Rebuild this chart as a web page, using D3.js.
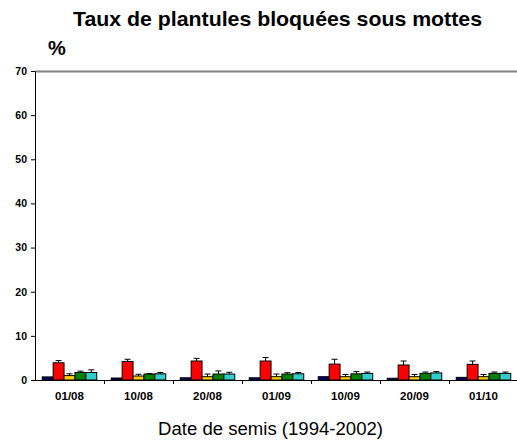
<!DOCTYPE html>
<html>
<head>
<meta charset="utf-8">
<script src="https://cdn.jsdelivr.net/npm/d3@7"></script>
<style>
  html, body { margin: 0; padding: 0; background: #fff; }
  svg { display: block; font-family: "Liberation Sans", Arial, sans-serif; }
</style>
</head>
<body>
<svg id="chart" width="517" height="445"></svg>
<script>
// Sowing dates (x categories)
const dates = ["01/08", "10/08", "20/08", "01/09", "10/09", "20/09", "01/10"];
// Five series per sowing date
const seriesNames = ["s1", "s2", "s3", "s4", "s5"];
const seriesColors = ["#000066", "#ff0000", "#ffcc00", "#008000", "#33cccc"];
// Mean rate (%) per series, one value per date
const s1 = [0.7, 0.45, 0.5, 0.5, 0.75, 0.4, 0.6];
const s2 = [3.9, 4.2, 4.3, 4.3, 3.6, 3.4, 3.55];
const s3 = [1.0, 0.9, 0.75, 0.75, 0.75, 0.75, 0.75];
const s4 = [1.7, 1.35, 1.35, 1.35, 1.4, 1.5, 1.5];
const s5 = [1.7, 1.4, 1.35, 1.4, 1.5, 1.6, 1.5];
// Upper error (%) per series
const e1 = [0.0, 0.0, 0.0, 0.0, 0.0, 0.0, 0.0];
const e2 = [0.5, 0.5, 0.6, 0.8, 1.1, 0.9, 0.75];
const e3 = [0.4, 0.4, 0.6, 0.6, 0.5, 0.5, 0.5];
const e4 = [0.3, 0.1, 0.7, 0.3, 0.5, 0.3, 0.3];
const e5 = [0.6, 0.3, 0.4, 0.3, 0.3, 0.3, 0.3];
const yTicks = [0, 10, 20, 30, 40, 50, 60, 70];

const values = [s1, s2, s3, s4, s5];
const errors = [e1, e2, e3, e4, e5];

const FONT = "Liberation Sans, Arial, sans-serif";
const svg = d3.select("#chart");
const mLeft = 35, mRight = 518, mTop = 71, mBottom = 380;

const x = d3.scaleBand().domain(dates).range([mLeft, mRight]).paddingInner(0.21).paddingOuter(0.105);
const xs = d3.scaleBand().domain(seriesNames).range([0, x.bandwidth()]);
const y = d3.scaleLinear().domain([0, 70]).range([mBottom, mTop]);

// Title and unit
svg.append("text").attr("x", 277.5).attr("y", 26).attr("text-anchor", "middle")
  .attr("font-family", FONT).attr("font-size", 20.5).attr("font-weight", "bold")
  .attr("textLength", 409).attr("lengthAdjust", "spacingAndGlyphs")
  .text("Taux de plantules bloquées sous mottes");
svg.append("text").attr("x", 48).attr("y", 55)
  .attr("font-family", FONT).attr("font-size", 20).attr("font-weight", "bold").text("%");

// Top frame line
svg.append("line").attr("x1", mLeft).attr("x2", 517).attr("y1", mTop + 0.5).attr("y2", mTop + 0.5)
  .attr("stroke", "#808080").attr("stroke-width", 2);

// Bars
const groups = svg.append("g").selectAll("g").data(dates).join("g")
  .attr("transform", d => `translate(${x(d)},0)`);

const cells = groups.selectAll("g").data((d, i) => seriesNames.map((s, k) => ({
  s, k, v: values[k][i], e: errors[k][i]
}))).join("g");

cells.append("rect")
  .attr("x", d => xs(d.s))
  .attr("y", d => y(d.v))
  .attr("width", xs.bandwidth())
  .attr("height", d => y(0) - y(d.v))
  .attr("fill", d => seriesColors[d.k])
  .attr("stroke", "#000").attr("stroke-width", 1);

// Upper error bars
const eb = cells.filter(d => d.e > 0);
eb.append("line")
  .attr("x1", d => xs(d.s) + xs.bandwidth() / 2).attr("x2", d => xs(d.s) + xs.bandwidth() / 2)
  .attr("y1", d => y(d.v)).attr("y2", d => y(d.v + d.e))
  .attr("stroke", "#000").attr("stroke-width", 1);
eb.append("line")
  .attr("x1", d => xs(d.s) + xs.bandwidth() / 2 - 3).attr("x2", d => xs(d.s) + xs.bandwidth() / 2 + 3)
  .attr("y1", d => y(d.v + d.e)).attr("y2", d => y(d.v + d.e))
  .attr("stroke", "#000").attr("stroke-width", 1);

// Y axis
const yAxis = svg.append("g").attr("transform", `translate(${mLeft},0)`)
  .call(d3.axisLeft(y).tickValues(yTicks).tickSize(4).tickSizeOuter(0).tickPadding(4));
yAxis.select(".domain").attr("stroke", "#000");
yAxis.selectAll("text").attr("font-size", 10.5).attr("font-weight", "bold")
  .attr("font-family", FONT);

// X axis: ticks at category boundaries
const xAxis = svg.append("g").attr("transform", `translate(0,${mBottom})`);
xAxis.append("line").attr("x1", mLeft).attr("x2", 517).attr("y1", 0.5).attr("y2", 0.5).attr("stroke", "#000");
const step = x.step();
const bounds = dates.map(d => x(d) - (step - x.bandwidth()) / 2).slice(1);
xAxis.selectAll("line.tk").data(bounds).join("line").attr("class", "tk")
  .attr("x1", d => Math.round(d) + 0.5).attr("x2", d => Math.round(d) + 0.5)
  .attr("y1", 0).attr("y2", 4).attr("stroke", "#000");
xAxis.selectAll("text").data(dates).join("text")
  .attr("x", d => x(d) + x.bandwidth() / 2).attr("y", 20)
  .attr("text-anchor", "middle").attr("font-family", FONT)
  .attr("font-size", 11.5).attr("font-weight", "bold").text(d => d);

svg.append("text").attr("x", 270.5).attr("y", 435).attr("text-anchor", "middle")
  .attr("font-family", FONT).attr("font-size", 17.5)
  .attr("textLength", 225).attr("lengthAdjust", "spacingAndGlyphs")
  .text("Date de semis (1994-2002)");
</script>
</body>
</html>
